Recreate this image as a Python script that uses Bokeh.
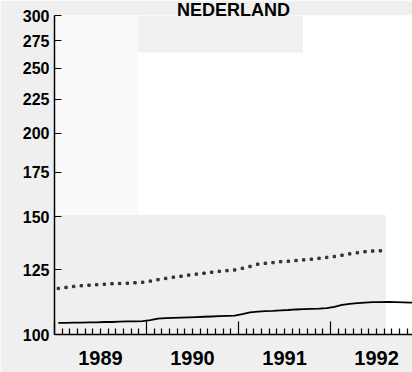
import pandas as pd
from bokeh.plotting import figure
from bokeh.models import (Range1d, LinearAxis, LogAxis, FixedTicker, CustomJSTickFormatter,
                          BoxAnnotation, Title)
from bokeh.embed import file_html
from bokeh.resources import INLINE

# ---------------- data ----------------
title_text = "NEDERLAND"
years = [1989, 1990, 1991, 1992]
year_labels = ["1989", "1990", "1991", "1992"]
y_ticks = [100, 125, 150, 175, 200, 225, 250, 275, 300]
y_tick_labels = ["100", "125", "150", "175", "200", "225", "250", "275", "300"]

solid_start = "1989-01"
solid_values = [
    104.1, 104.1, 104.2, 104.2, 104.3, 104.3, 104.4, 104.4, 104.5, 104.6, 104.6, 104.7,
    105.1, 105.6, 105.8, 105.9, 106.0, 106.1, 106.2, 106.3, 106.4, 106.5, 106.6, 106.7,
    107.3, 107.9, 108.2, 108.4, 108.5, 108.7, 108.8, 109.0, 109.1, 109.2, 109.3, 109.5,
    110.0, 110.7, 111.1, 111.4, 111.6, 111.8, 111.8, 111.9, 111.8, 111.7, 111.6, 111.6,
]
dotted_start = "1989-01"
dotted_values = [
    117.2, 117.6, 118.0, 118.3, 118.5, 118.7, 118.9, 119.1, 119.2, 119.3, 119.5, 119.7,
    120.2, 120.8, 121.3, 121.8, 122.2, 122.7, 123.1, 123.5, 123.9, 124.3, 124.6, 124.9,
    125.6, 126.4, 127.4, 127.8, 128.1, 128.5, 128.7, 129.0, 129.3, 129.6, 130.0, 130.4,
    130.8, 131.4, 132.0, 132.5, 133.0, 133.3, 133.4,
]


def frac_year(start, n):
    d = pd.date_range(start, periods=n, freq="MS")
    return list(d.year + (d.month - 0.5) / 12.0)


solid_x = frac_year(solid_start, len(solid_values))
dotted_x = frac_year(dotted_start, len(dotted_values))

FONT = "Liberation Sans"
GRAY = "#efefef"
X0, X1 = 1989.0, 1992.891
Y0, Y1 = y_ticks[0], y_ticks[-1]

# ---------------- figure ----------------
p = figure(width=412, height=372, output_backend="svg", toolbar_location=None,
           x_range=Range1d(X0, X1), y_range=Range1d(Y0, Y1),
           y_axis_type="log", x_axis_location=None, y_axis_location=None,
           min_border_left=54, min_border_right=0, min_border_top=15, min_border_bottom=38)
p.background_fill_color = "white"
p.border_fill_color = GRAY
p.outline_line_color = None
p.grid.visible = False

# title (in the top border, partly over the plot area as in the scan)
p.add_layout(Title(text=title_text, align="center", text_font=FONT, text_font_style="bold",
                   text_font_size="18px", text_color="black", standoff=-9, offset=-1),
             "above")

# scanned-background patches
p.add_layout(BoxAnnotation(left=X0, right=1992.6, bottom=100, top=151,
                           fill_color=GRAY, fill_alpha=1, line_color=None, level="underlay"))
p.add_layout(BoxAnnotation(left=1989.91, right=1991.70, bottom=264, top=300,
                           fill_color="#f0f0f0", fill_alpha=1, line_color=None, level="underlay"))
p.add_layout(BoxAnnotation(left=X0, right=1989.91, bottom=151, top=300,
                           fill_color="#fafafa", fill_alpha=1, line_color=None, level="underlay"))

# y axis
ya = LogAxis(ticker=FixedTicker(ticks=y_ticks, minor_ticks=[]),
             formatter=CustomJSTickFormatter(args=dict(tvals=y_ticks, tlabels=y_tick_labels),
                                             code="return tlabels[tvals.indexOf(Math.round(tick))];"),
             major_tick_in=7, major_tick_out=0, major_tick_line_width=1.2,
             minor_tick_line_color=None, axis_line_width=1.5, major_label_standoff=5,
             major_label_text_font=FONT, major_label_text_font_style="bold",
             major_label_text_font_size="16px", major_label_text_color="black")
p.add_layout(ya, "left")

# x axis: year boundaries + monthly ticks
month_ticks = [y + m / 12.0 for y in years for m in range(1, 12)]
xa = LinearAxis(ticker=FixedTicker(ticks=years, minor_ticks=month_ticks),
                formatter=CustomJSTickFormatter(code="return '';"),
                major_tick_in=13, major_tick_out=0, minor_tick_in=6, minor_tick_out=0,
                axis_line_width=1.5, major_tick_line_width=1.2, minor_tick_line_width=1.2,
                major_tick_line_color="black", minor_tick_line_color="black",
                major_label_standoff=0)
p.add_layout(xa, "below")

# x axis: year labels at mid-year
xl = LinearAxis(ticker=FixedTicker(ticks=[y + 0.5 for y in years], minor_ticks=[]),
                formatter=CustomJSTickFormatter(args=dict(ylabels=year_labels, first=years[0]),
                                                code="return ylabels[Math.floor(tick) - first];"),
                axis_line_color=None, major_tick_line_color=None, minor_tick_line_color=None,
                major_label_standoff=10,
                major_label_text_font=FONT, major_label_text_font_style="bold",
                major_label_text_font_size="20px", major_label_text_color="black")
p.add_layout(xl, "below")

# series
p.line(solid_x, solid_values, line_color="black", line_width=1.8)
p.scatter(dotted_x, dotted_values, marker="square", size=2.4, color="#333333")

open("out.html", "w").write(file_html(p, INLINE))
